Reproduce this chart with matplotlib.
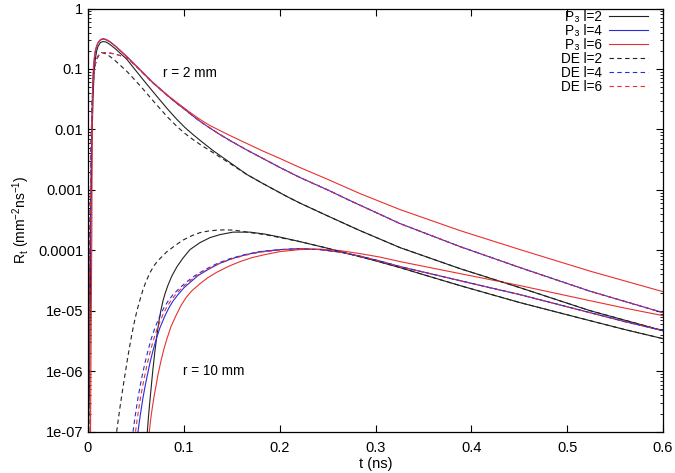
import numpy as np
import matplotlib
matplotlib.use("Agg")
import matplotlib.pyplot as plt
from matplotlib.ticker import LogLocator, FixedLocator, NullFormatter

plt.rcParams['font.family'] = ['Liberation Sans', 'DejaVu Sans']
plt.rcParams['mathtext.fontset'] = 'custom'
plt.rcParams['mathtext.rm'] = 'Liberation Sans'
plt.rcParams['mathtext.it'] = 'Liberation Sans'
plt.rcParams['mathtext.default'] = 'regular'

# ---------------- r = 2 mm ----------------
t_p3_l2_r2 = [0.0005,0.0010,0.0017,0.0024,0.0031,0.0042,0.0052,0.0063,0.0073,0.0089,0.0104,0.0130,0.0157,0.0188,0.0230,0.0282,0.0334,0.0407,0.0490,0.0574,0.0668,0.0751,0.0835,0.0929,0.1012,0.1096,0.1179,0.1304,0.1482,0.1659,0.1826,0.2077,0.2212,0.2494,0.2838,0.3256,0.3882,0.4508,0.5238,0.6]
R_p3_l2_r2 = [1e-7,2.80e-7,6.47e-7,1.53e-5,3.22e-4,6.79e-3,0.0312,0.0809,0.1327,0.1943,0.235,0.2738,0.2844,0.279,0.2536,0.2178,0.1835,0.1432,0.0979,0.0668,0.0440,0.0306,0.0213,0.01456,0.01074,0.00822,0.00641,0.00447,0.00283,0.00179,0.00127,7.74e-4,6.04e-4,3.75e-4,2.12e-4,1.109e-4,4.98e-5,2.41e-5,1.005e-5,4.69e-6]

t_p3_l4_r2 = [0.0003,0.0006,0.0013,0.0021,0.0031,0.0042,0.0052,0.0063,0.0073,0.0089,0.0104,0.0130,0.0157,0.0188,0.0230,0.0282,0.0334,0.0407,0.0490,0.0574,0.0668,0.0751,0.0835,0.0929,0.1012,0.1096,0.1179,0.1273,0.1377,0.1482,0.1659,0.1826,0.2004,0.2212,0.2494,0.2734,0.3256,0.3882,0.4508,0.5238,0.6]
R_p3_l4_r2 = [1e-7,6.47e-7,1.53e-5,6.26e-5,1.48e-3,0.0213,0.0668,0.1278,0.180,0.235,0.2686,0.301,0.313,0.3034,0.279,0.2395,0.2018,0.1575,0.1161,0.0856,0.0608,0.0466,0.0356,0.0268,0.0213,0.01663,0.01324,0.01053,0.00822,0.00654,0.00455,0.00330,0.00234,0.0016,0.00101,6.65e-4,2.77e-4,1.153e-4,5.18e-5,2.11e-5,9.31e-6]

t_p3_l6_r2 = [0.0026,0.0033,0.0040,0.0044,0.0052,0.0063,0.0073,0.0089,0.0104,0.0130,0.0157,0.0188,0.0230,0.0282,0.0334,0.0407,0.0490,0.0574,0.0668,0.0751,0.0835,0.0929,0.1012,0.1096,0.1179,0.1273,0.1377,0.1482,0.1659,0.1826,0.2004,0.2212,0.2494,0.2838,0.3256,0.3882,0.4508,0.5238,0.6]
R_p3_l6_r2 = [1e-7,4.88e-6,2.20e-4,9.95e-3,0.0809,0.143,0.194,0.2395,0.2738,0.307,0.319,0.309,0.284,0.244,0.2057,0.1607,0.1184,0.0873,0.0619,0.0474,0.0363,0.0278,0.0221,0.0176,0.01428,0.01159,0.00957,0.00791,0.00583,0.00438,0.00330,0.00234,0.00151,8.69e-4,4.72e-4,2.12e-4,1.028e-4,4.53e-5,2.07e-5]

t_de_l2_r2 = [0.0007,0.0014,0.0021,0.0031,0.0042,0.0052,0.0063,0.0073,0.0089,0.0110,0.0143,0.0177,0.0230,0.0282,0.0334,0.0407,0.0490,0.0574,0.0668,0.0751,0.0835,0.0929,0.1012,0.1096,0.1179,0.1304,0.1482,0.1659,0.1826,0.2077,0.2212,0.2494,0.2838,0.3256,0.3882,0.4508,0.5238,0.6]
R_de_l2_r2 = [1e-7,4.88e-6,2.20e-4,4.64e-3,0.0258,0.0532,0.0840,0.114,0.1432,0.1668,0.187,0.180,0.1607,0.1379,0.1161,0.0907,0.0656,0.0466,0.0312,0.0221,0.0157,0.01115,0.00855,0.00679,0.00551,0.00414,0.00272,0.00179,0.00127,7.74e-4,6.04e-4,3.75e-4,2.12e-4,1.109e-4,4.98e-5,2.41e-5,1.005e-5,4.69e-6]

t_de_l4_r2 = [0.0007,0.0014,0.0021,0.0031,0.0042,0.0052,0.0063,0.0073,0.0089,0.0110,0.0143,0.0177,0.0230,0.0282,0.0334,0.0407,0.0490,0.0574,0.0668,0.0751,0.0835,0.0929,0.1012,0.1096,0.1179,0.1273,0.1377,0.1482,0.1659,0.1826,0.2004,0.2212,0.2494,0.2734,0.3256,0.3882,0.4508,0.5238,0.6]
R_de_l4_r2 = [1e-7,4.88e-6,2.20e-4,4.64e-3,0.0258,0.0532,0.0840,0.114,0.1432,0.1668,0.187,0.186,0.183,0.1767,0.1668,0.1517,0.1161,0.0856,0.0608,0.0466,0.0356,0.0268,0.0213,0.01663,0.01324,0.01053,0.00822,0.00654,0.00455,0.00330,0.00234,0.0016,0.00101,6.65e-4,2.77e-4,1.153e-4,5.18e-5,2.11e-5,9.31e-6]

t_de_l6_r2 = [0.0007,0.0014,0.0021,0.0031,0.0042,0.0052,0.0063,0.0073,0.0089,0.0110,0.0143,0.0177,0.0230,0.0282,0.0334,0.0407,0.0490,0.0574,0.0668,0.0751,0.0835,0.0929,0.1012,0.1096,0.1179,0.1273,0.1377,0.1482,0.1659,0.1826,0.2004,0.2212,0.2494,0.2734,0.3256,0.3882,0.4508,0.5238,0.6]
R_de_l6_r2 = [1e-7,4.88e-6,2.20e-4,4.64e-3,0.0258,0.0532,0.0840,0.114,0.1432,0.1668,0.187,0.186,0.183,0.1767,0.1668,0.1517,0.1161,0.0856,0.0608,0.0466,0.0356,0.0268,0.0213,0.01663,0.01324,0.01053,0.00822,0.00654,0.00455,0.00330,0.00234,0.0016,0.00101,6.65e-4,2.77e-4,1.153e-4,5.18e-5,2.11e-5,9.31e-6]

# ---------------- r = 10 mm ----------------
t_p3_l2_r10 = [0.0619,0.0631,0.0647,0.0663,0.0678,0.0699,0.0720,0.0741,0.0762,0.0783,0.0804,0.0835,0.0877,0.0929,0.0991,0.1064,0.1169,0.1273,0.1377,0.1513,0.1690,0.1847,0.2004,0.2212,0.2473,0.2734,0.2995,0.3256,0.3569,0.3882,0.4195,0.4508,0.4873,0.5238,0.5604,0.6]
R_p3_l2_r10 = [1e-7,1.77e-7,3.39e-7,6.23e-7,1.10e-6,2.19e-6,4.03e-6,6.87e-6,1.045e-5,1.47e-5,1.92e-5,2.66e-5,3.82e-5,5.38e-5,7.43e-5,1.028e-4,1.343e-4,1.622e-4,1.82e-4,2.00e-4,2.00e-4,1.855e-4,1.655e-4,1.393e-4,1.109e-4,8.66e-5,6.76e-5,5.18e-5,3.67e-5,2.61e-5,1.886e-5,1.365e-5,9.68e-6,6.87e-6,4.88e-6,3.46e-6]

t_de_l2_r10 = [0.0299,0.0313,0.0334,0.0355,0.0376,0.0397,0.0417,0.0438,0.0459,0.0480,0.0501,0.0522,0.0543,0.0574,0.0605,0.0647,0.0689,0.0730,0.0783,0.0824,0.0908,0.0991,0.1085,0.1169,0.1252,0.1346,0.1429,0.1513,0.1596,0.1690,0.1847,0.2004,0.2212,0.2473,0.2734,0.2995,0.3256,0.3569,0.3882,0.4195,0.4508,0.4873,0.5238,0.5604,0.6]
R_de_l2_r10 = [1e-7,1.466e-7,2.55e-7,4.26e-7,6.98e-7,1.125e-6,1.778e-6,2.75e-6,4.19e-6,6.13e-6,8.63e-6,1.172e-5,1.53e-5,2.24e-5,3.04e-5,4.28e-5,5.58e-5,6.76e-5,8.18e-5,9.53e-5,1.197e-4,1.476e-4,1.751e-4,1.964e-4,2.08e-4,2.16e-4,2.18e-4,2.16e-4,2.08e-4,1.964e-4,1.82e-4,1.622e-4,1.393e-4,1.109e-4,8.66e-5,6.76e-5,5.18e-5,3.67e-5,2.61e-5,1.886e-5,1.365e-5,9.68e-6,6.87e-6,4.88e-6,3.46e-6]

t_p3_l4_r10 = [0.0522,0.0537,0.0553,0.0574,0.0595,0.0616,0.0647,0.0678,0.0710,0.0751,0.0804,0.0845,0.0887,0.0939,0.1002,0.1075,0.1148,0.1252,0.1367,0.1503,0.1649,0.1805,0.2004,0.2212,0.2421,0.2630,0.2838,0.3047,0.3256,0.3569,0.3882,0.4195,0.4508,0.4873,0.5238,0.5604,0.6]
R_p3_l4_r10 = [1e-7,1.52e-7,2.23e-7,3.66e-7,5.56e-7,8.13e-7,1.387e-6,2.19e-6,3.33e-6,5.26e-6,8.31e-6,1.127e-5,1.445e-5,1.85e-5,2.41e-5,3.04e-5,3.82e-5,4.80e-5,6.03e-5,7.29e-5,8.5e-5,9.53e-5,1.028e-4,1.067e-4,1.028e-4,9.34e-5,8.02e-5,6.63e-5,5.38e-5,4.12e-5,3.15e-5,2.41e-5,1.85e-5,1.313e-5,9.31e-6,6.61e-6,4.69e-6]

t_de_l4_r10 = [0.0470,0.0485,0.0501,0.0522,0.0543,0.0563,0.0595,0.0626,0.0657,0.0699,0.0751,0.0793,0.0835,0.0887,0.0960,0.1033,0.1117,0.1221,0.1346,0.1482,0.1638,0.1795,0.2004,0.2212,0.2421,0.2630,0.2838,0.3047,0.3256,0.3569,0.3882,0.4195,0.4508,0.4873,0.5238,0.5604,0.6]
R_de_l4_r10 = [1e-7,1.52e-7,2.23e-7,3.66e-7,5.56e-7,8.13e-7,1.387e-6,2.19e-6,3.33e-6,5.26e-6,8.31e-6,1.127e-5,1.445e-5,1.85e-5,2.41e-5,3.04e-5,3.82e-5,4.80e-5,6.03e-5,7.29e-5,8.5e-5,9.53e-5,1.028e-4,1.067e-4,1.028e-4,9.34e-5,8.02e-5,6.63e-5,5.38e-5,4.12e-5,3.15e-5,2.41e-5,1.85e-5,1.313e-5,9.31e-6,6.61e-6,4.69e-6]

t_p3_l6_r10 = [0.0640,0.0652,0.0668,0.0689,0.0710,0.0730,0.0762,0.0793,0.0824,0.0866,0.0918,0.0970,0.1023,0.1085,0.1169,0.1252,0.1346,0.1461,0.1586,0.1711,0.1847,0.2004,0.2212,0.2421,0.2630,0.2838,0.3047,0.3256,0.3569,0.3882,0.4195,0.4508,0.4873,0.5238,0.5604,0.6]
R_p3_l6_r10 = [1e-7,1.52e-7,2.31e-7,3.80e-7,5.77e-7,8.77e-7,1.496e-6,2.36e-6,3.46e-6,5.47e-6,8.31e-6,1.217e-5,1.652e-5,2.15e-5,2.81e-5,3.54e-5,4.36e-5,5.38e-5,6.51e-5,7.58e-5,8.5e-5,9.53e-5,1.028e-4,1.047e-4,9.89e-5,8.83e-5,7.73e-5,6.51e-5,5.18e-5,4.12e-5,3.28e-5,2.61e-5,1.96e-5,1.47e-5,1.106e-5,8.31e-6]

t_de_l6_r10 = [0.0496,0.0511,0.0527,0.0548,0.0569,0.0590,0.0621,0.0652,0.0684,0.0725,0.0777,0.0819,0.0861,0.0913,0.0981,0.1054,0.1137,0.1242,0.1357,0.1492,0.1649,0.1805,0.2004,0.2212,0.2421,0.2630,0.2838,0.3047,0.3256,0.3569,0.3882,0.4195,0.4508,0.4873,0.5238,0.5604,0.6]
R_de_l6_r10 = [1e-7,1.52e-7,2.23e-7,3.66e-7,5.56e-7,8.13e-7,1.387e-6,2.19e-6,3.33e-6,5.26e-6,8.31e-6,1.127e-5,1.445e-5,1.85e-5,2.41e-5,3.04e-5,3.82e-5,4.80e-5,5.91e-5,7.16e-5,8.34e-5,9.34e-5,1.009e-4,1.067e-4,1.028e-4,9.34e-5,8.02e-5,6.63e-5,5.38e-5,4.12e-5,3.15e-5,2.41e-5,1.85e-5,1.313e-5,9.31e-6,6.61e-6,4.69e-6]

legend_labels = ['P\u2083 l=2', 'P\u2083 l=4', 'P\u2083 l=6', 'DE l=2', 'DE l=4', 'DE l=6']
x_ticks = [0, 0.1, 0.2, 0.3, 0.4, 0.5, 0.6]
x_tick_labels = ['0', '0.1', '0.2', '0.3', '0.4', '0.5', '0.6']
y_ticks = [1e-7, 1e-6, 1e-5, 1e-4, 1e-3, 1e-2, 1e-1, 1]
y_tick_labels = ['1e-07', '1e-06', '1e-05', '0.0001', '0.001', '0.01', '0.1', '1']

BLACK = '#222222'
BLUE = '#2a2ae0'
RED = '#e83030'
LW = 0.8
DASH = (4, 3)
FS = 10.5

fig = plt.figure(figsize=(6.75, 4.73), dpi=100)
ax = fig.add_axes([88/675, 41.3/473, 575/675, 423.2/473])

curves = [
    (t_p3_l2_r2, R_p3_l2_r2, BLACK, '-', legend_labels[0]),
    (t_p3_l2_r10, R_p3_l2_r10, BLACK, '-', None),
    (t_p3_l4_r2, R_p3_l4_r2, BLUE, '-', legend_labels[1]),
    (t_p3_l4_r10, R_p3_l4_r10, BLUE, '-', None),
    (t_p3_l6_r2, R_p3_l6_r2, RED, '-', legend_labels[2]),
    (t_p3_l6_r10, R_p3_l6_r10, RED, '-', None),
    (t_de_l2_r2, R_de_l2_r2, BLACK, '--', legend_labels[3]),
    (t_de_l2_r10, R_de_l2_r10, BLACK, '--', None),
    (t_de_l4_r2, R_de_l4_r2, BLUE, '--', legend_labels[4]),
    (t_de_l4_r10, R_de_l4_r10, BLUE, '--', None),
    (t_de_l6_r2, R_de_l6_r2, RED, '--', legend_labels[5]),
    (t_de_l6_r10, R_de_l6_r10, RED, '--', None),
]
handles = {}
for t, R, c, ls, lab in curves:
    kw = dict(color=c, lw=LW)
    if ls == '--':
        kw['dashes'] = DASH
    ln, = ax.plot(t, R, **kw)
    if lab is not None:
        handles[lab] = ln

ax.set_yscale('log')
ax.set_xlim(0, 0.6)
ax.set_ylim(1e-7, 1)
ax.xaxis.set_major_locator(FixedLocator(x_ticks))
ax.set_xticklabels(x_tick_labels)
ax.yaxis.set_major_locator(FixedLocator(y_ticks))
ax.set_yticklabels(y_tick_labels)
ax.yaxis.set_minor_locator(LogLocator(base=10, subs=np.arange(2, 10)))
ax.yaxis.set_minor_formatter(NullFormatter())
ax.tick_params(which='both', direction='in', top=True, right=True, labelsize=FS, colors='black')
ax.tick_params(which='major', length=5, width=0.8)
ax.tick_params(which='minor', length=2.5, width=0.6)
ax.tick_params(axis='x', which='major', pad=7)
for s in ax.spines.values():
    s.set_linewidth(0.9)

ax.set_xlabel('t (ns)', fontsize=FS, labelpad=1)
ax.set_ylabel('R$_t$ (mm$^{-2}$ns$^{-1}$)', fontsize=10, labelpad=4)

ax.text(0.078, 0.087, 'r = 2 mm', fontsize=9.8, ha='left', va='center')
ax.text(0.099, 1e-6, 'r = 10 mm', fontsize=9.8, ha='left', va='center')

leg = ax.legend([handles[l] for l in legend_labels], legend_labels, loc='upper right',
                bbox_to_anchor=(648/675, 1 - 10/473), bbox_transform=fig.transFigure,
                frameon=False, markerfirst=False, fontsize=9.8, handlelength=2.9,
                handletextpad=0.5, labelspacing=0.0, borderpad=0.0, borderaxespad=0.0)

fig.savefig('out.png', dpi=100)
